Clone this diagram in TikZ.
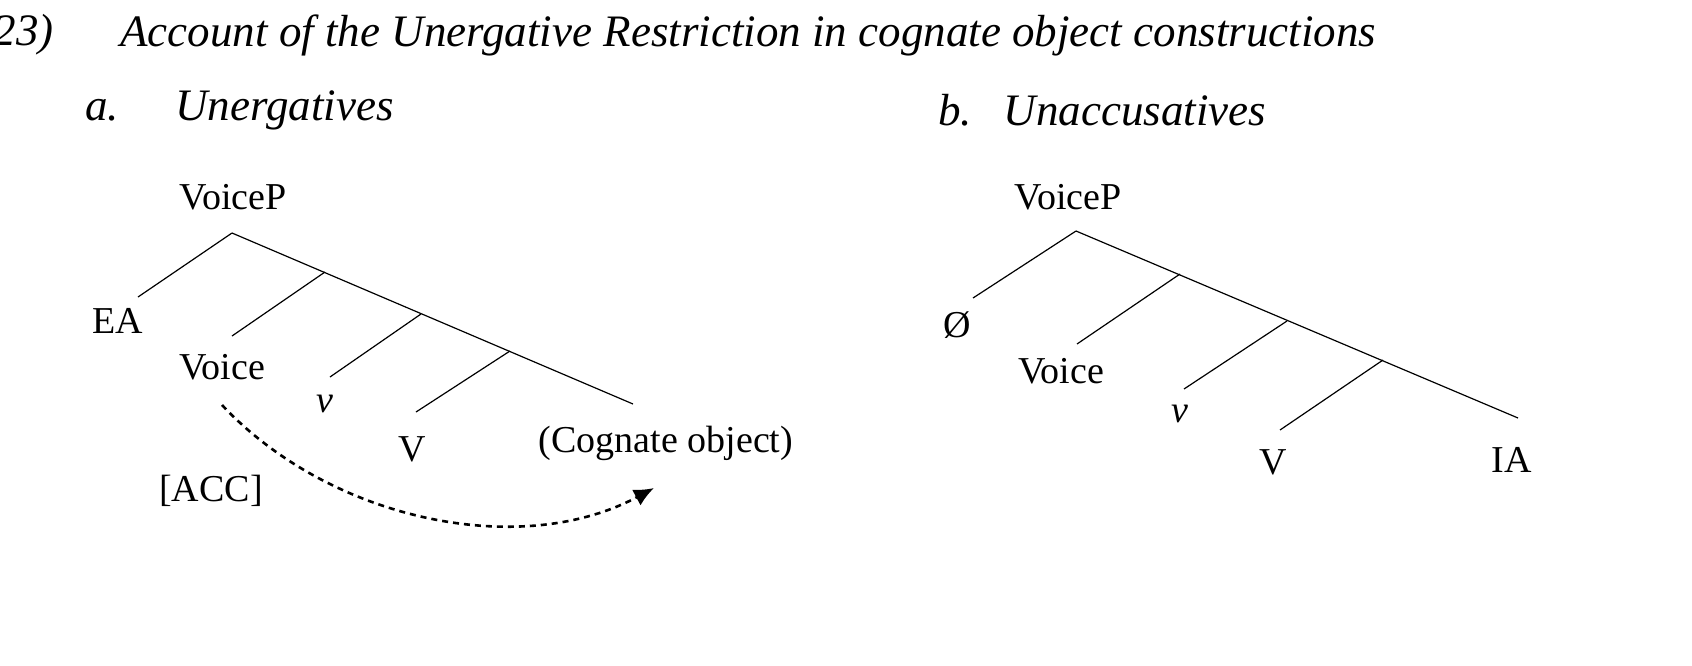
\documentclass[tikz,border=0pt]{standalone}
\usepackage{fontspec}
\setmainfont{Liberation Serif}
\usetikzlibrary{arrows.meta}
\tikzstyle{lbl} = [font=\fontsize{19}{22}\selectfont, inner sep=0pt]
\tikzstyle{ttl} = [font=\fontsize{22.5}{26}\selectfont\itshape, inner sep=0pt, anchor=west]
\tikzstyle{br} = [line width=0.6pt]

\begin{document}
\begin{tikzpicture}[x=0.5pt, y=-0.5pt]
    \useasboundingbox (0,0) rectangle (1692,665);
    % titles
    \node[ttl, anchor=east] (num) at (54,35) {(23)};
    \node[ttl] (title) at (120,35) {Account of the Unergative Restriction in cognate object constructions};
    \node[ttl] (ta) at (85,110) {a.\hspace{1.25em}Unergatives};
    \node[ttl] (tb) at (938,110) {b.\hspace{0.7em}Unaccusatives};
    % tree a
    \node[lbl] (vpa) at (233,197) {VoiceP};
    \coordinate (ra) at (232,233);
    \coordinate (a1) at (325,272);
    \coordinate (a2) at (421,314);
    \coordinate (a3) at (510,351);
    \node[lbl] (ea) at (118,321) {EA};
    \node[lbl] (voa) at (222,367) {Voice};
    \node[lbl] (va) at (325,404) {\itshape v};
    \node[lbl] (Va) at (412,449) {V};
    \node[lbl] (co) at (666,443) {(Cognate object)};
    \node[lbl] (acc) at (211,491) {[ACC]};
    \draw[br] (ra) -- (138,297);
    \draw[br] (ra) -- (633,404);
    \draw[br] (a1) -- (232,336);
    \draw[br] (a2) -- (330,377);
    \draw[br] (a3) -- (416,412);
    \draw[line width=1.3pt, dash pattern=on 3pt off 2.5pt, -{Latex[length=10pt,width=9pt]}]
        (222,405) .. controls (330,520) and (520,560) .. (654,488);
    % tree b
    \node[lbl] (vpb) at (1068,197) {VoiceP};
    \coordinate (rb) at (1076,231);
    \coordinate (b1) at (1180,274);
    \coordinate (b2) at (1287,321);
    \coordinate (b3) at (1383,360);
    \node[lbl] (nul) at (957,325) {Ø};
    \node[lbl] (vob) at (1061,371) {Voice};
    \node[lbl] (vb) at (1180,414) {\itshape v};
    \node[lbl] (Vb) at (1273,462) {V};
    \node[lbl] (ia) at (1512,460) {IA};
    \draw[br] (rb) -- (973,298);
    \draw[br] (rb) -- (1518,418);
    \draw[br] (b1) -- (1077,344);
    \draw[br] (b2) -- (1184,389);
    \draw[br] (b3) -- (1280,430);
\end{tikzpicture}
\end{document}
